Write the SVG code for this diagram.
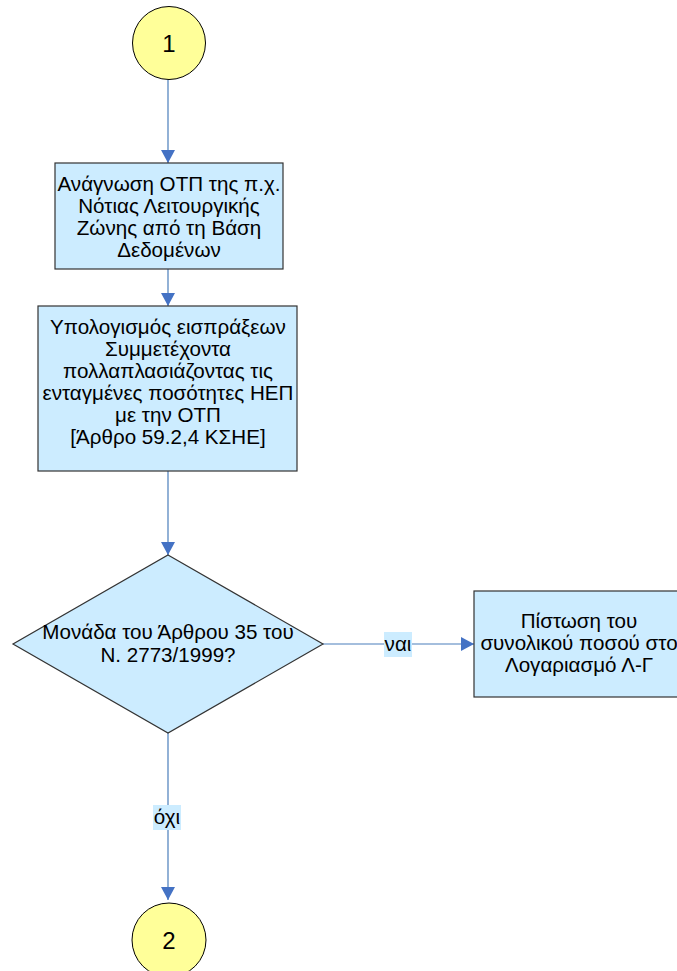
<svg xmlns="http://www.w3.org/2000/svg" width="677" height="971" viewBox="0 0 677 971">
<style>
.term{fill:#FFFF99;stroke:#000;stroke-width:1}
.proc{fill:#CCECFF;stroke:#333;stroke-width:1.2}
.t{font-family:"Liberation Sans",Arial,sans-serif;font-size:20.6px;fill:#000;text-anchor:middle}
.big{font-size:24px}
.edge{stroke:#4A7EBB;stroke-width:1.2;fill:none}
.lbl{fill:#CCECFF}
</style>
<defs>
<marker id="ah" markerWidth="14" markerHeight="14" refX="13" refY="7" orient="auto" markerUnits="userSpaceOnUse">
<path d="M0,0 L13,7 L0,14 Z" fill="#4472C4"/>
</marker>
</defs>
<rect width="677" height="971" fill="#fff"/>
<g id="connectors">
<line class="edge" x1="168" y1="80" x2="168" y2="163" marker-end="url(#ah)"/>
<line class="edge" x1="168" y1="269" x2="168" y2="306" marker-end="url(#ah)"/>
<line class="edge" x1="168" y1="471" x2="168" y2="555" marker-end="url(#ah)"/>
<line class="edge" x1="323" y1="644" x2="474" y2="644" marker-end="url(#ah)"/>
<line class="edge" x1="168" y1="733" x2="168" y2="900" marker-end="url(#ah)"/>
<rect class="lbl" x="384" y="632" width="28" height="25"/>
<text class="t" x="398" y="651">ναι</text>
<rect class="lbl" x="153" y="805" width="28" height="25"/>
<text class="t" x="167" y="824">όχι</text>
</g>
<g id="start1">
<circle class="term" cx="169" cy="43" r="36.5"/>
<text class="t big" x="169" y="52">1</text>
</g>
<g id="read">
<rect class="proc" x="55" y="163" width="228" height="106"/>
<text class="t" x="169" y="191">Ανάγνωση ΟΤΠ της π.χ.</text>
<text class="t" x="169" y="213">Νότιας Λειτουργικής</text>
<text class="t" x="169" y="235">Ζώνης από τη Βάση</text>
<text class="t" x="169" y="257">Δεδομένων</text>
</g>
<g id="calc">
<rect class="proc" x="38" y="306" width="259" height="165"/>
<text class="t" x="168" y="334">Υπολογισμός εισπράξεων</text>
<text class="t" x="168" y="356">Συμμετέχοντα</text>
<text class="t" x="168" y="378">πολλαπλασιάζοντας τις</text>
<text class="t" x="168" y="400">ενταγμένες ποσότητες ΗΕΠ</text>
<text class="t" x="168" y="422">με την ΟΤΠ</text>
<text class="t" x="168" y="444">[Άρθρο 59.2,4 ΚΣΗΕ]</text>
</g>
<g id="decision">
<polygon class="proc" points="168,555 323,644 168,733 13,644"/>
<text class="t" x="168" y="639">Μονάδα του Άρθρου 35 του</text>
<text class="t" x="168" y="662">Ν. 2773/1999?</text>
</g>
<g id="credit">
<rect class="proc" x="474" y="591" width="210" height="106"/>
<text class="t" x="579" y="628">Πίστωση του</text>
<text class="t" x="579" y="650">συνολικού ποσού στο</text>
<text class="t" x="579" y="672">Λογαριασμό Λ-Γ</text>
</g>
<g id="end2">
<circle class="term" cx="169" cy="940" r="37"/>
<text class="t big" x="169" y="949">2</text>
</g>
</svg>
